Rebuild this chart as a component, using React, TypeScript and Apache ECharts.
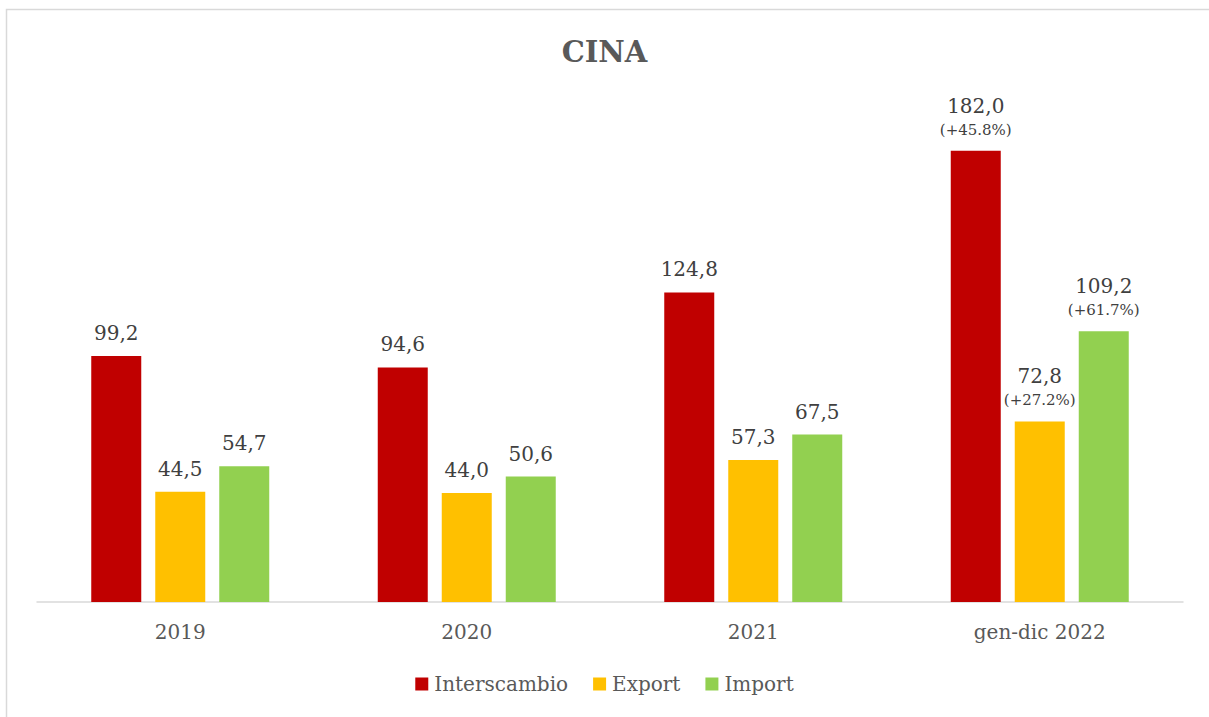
import React, { useEffect, useRef } from "react";
import * as echarts from "echarts";

const categories = ["2019", "2020", "2021", "gen-dic 2022"];
const interscambio = [99.2, 94.6, 124.8, 182.0];
const exportVals = [44.5, 44.0, 57.3, 72.8];
const importVals = [54.7, 50.6, 67.5, 109.2];
const interscambioPct = ["", "", "", "(+45.8%)"];
const exportPct = ["", "", "", "(+27.2%)"];
const importPct = ["", "", "", "(+61.7%)"];

const FONT = "DejaVu Serif";

function fmt(v: number) {
  return v.toFixed(1).replace(".", ",");
}

function makeSeries(name: string, data: number[], pct: string[], color: string) {
  return {
    name,
    type: "bar",
    data,
    barWidth: 50,
    barGap: "28%",
    itemStyle: { color },
    label: {
      show: true,
      position: "top",
      distance: 10,
      color: "#404040",
      fontFamily: FONT,
      formatter: (p: any) => {
        const s = pct[p.dataIndex];
        return s ? `{v|${fmt(p.value)}}\n{p|${s}}` : `{v|${fmt(p.value)}}`;
      },
      rich: {
        v: { fontSize: 20, lineHeight: 26, fontFamily: FONT, color: "#404040" },
        p: { fontSize: 15, lineHeight: 22, fontFamily: FONT, color: "#404040" },
      },
    },
  };
}

export default function App() {
  const ref = useRef<HTMLDivElement>(null);
  useEffect(() => {
    const chart = echarts.init(ref.current!, null, { renderer: "svg" });
    chart.setOption({
      animation: false,
      backgroundColor: "#ffffff",
      title: {
        text: "CINA",
        left: "center",
        top: 32,
        textStyle: { fontFamily: FONT, fontSize: 29, fontWeight: "bold", color: "#595959" },
      },
      graphic: [
        {
          type: "rect",
          shape: { x: 6.5, y: 9.5, width: 1400, height: 900 },
          style: { fill: "none", stroke: "#d9d9d9", lineWidth: 1.5 },
          silent: true,
        },
      ],
      legend: {
        bottom: 18,
        left: "center",
        itemWidth: 13,
        itemHeight: 13,
        itemGap: 25,
        icon: "rect",
        textStyle: { fontFamily: FONT, fontSize: 20, color: "#595959", padding: [0, 0, 0, 1] },
        data: ["Interscambio", "Export", "Import"],
      },
      grid: { left: 37, right: 26, top: 106, bottom: 115, containLabel: false },
      xAxis: {
        type: "category",
        data: categories,
        axisLine: { lineStyle: { color: "#d9d9d9", width: 1.5 } },
        axisTick: { show: false },
        axisLabel: { fontFamily: FONT, fontSize: 20, color: "#595959", margin: 20 },
      },
      yAxis: {
        type: "value",
        min: 0,
        max: 200,
        show: false,
        splitLine: { show: false },
      },
      series: [
        makeSeries("Interscambio", interscambio, interscambioPct, "#c00000"),
        makeSeries("Export", exportVals, exportPct, "#ffc000"),
        makeSeries("Import", importVals, importPct, "#92d050"),
      ],
    });
    return () => chart.dispose();
  }, []);
  return (
    <div
      ref={ref}
      style={{ position: "fixed", left: 0, top: 0, width: 1209, height: 717 }}
    />
  );
}
